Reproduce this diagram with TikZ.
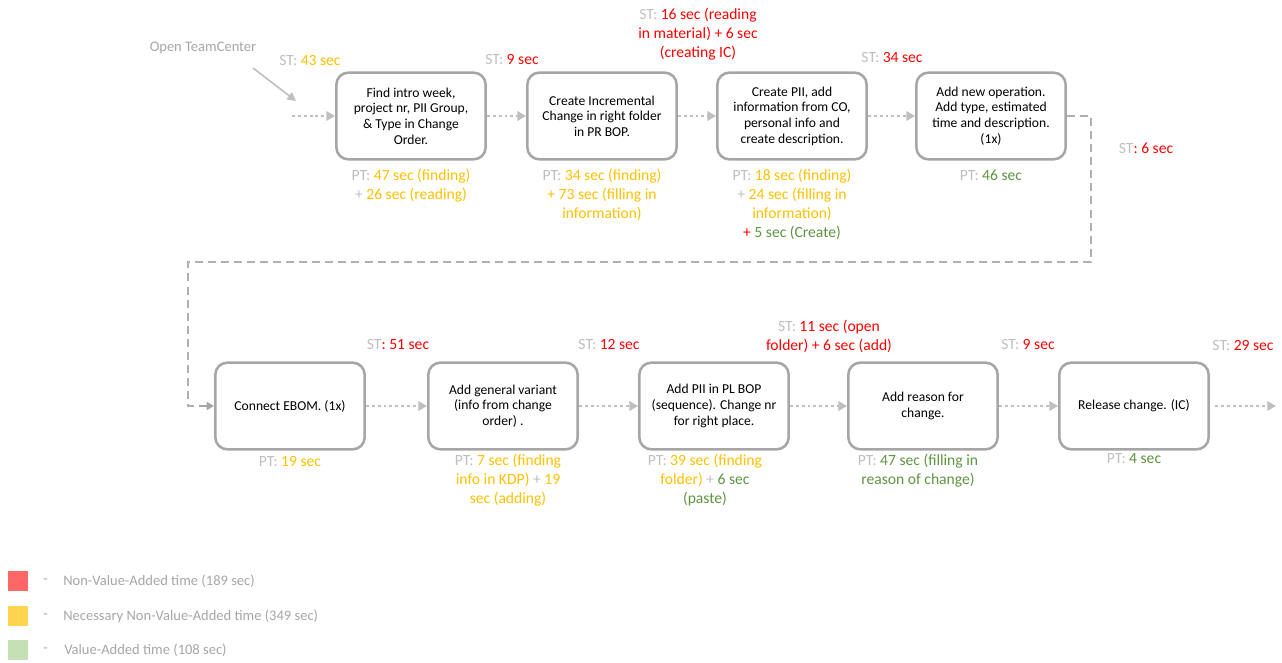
\documentclass[tikz,border=0pt]{standalone}
\usepackage{fontspec}
\setmainfont{Carlito}
\usetikzlibrary{arrows.meta}
\definecolor{lgray}{HTML}{BFBFBF}
\definecolor{bgray}{HTML}{A6A6A6}
\definecolor{dgray}{HTML}{B0B0B0}
\definecolor{tred}{HTML}{FF0000}
\definecolor{tyel}{HTML}{FFC000}
\definecolor{tgrn}{HTML}{5E9440}
\definecolor{lred}{HTML}{FF6666}
\definecolor{lyel}{HTML}{FFD54F}
\definecolor{lgrn}{HTML}{C5E0B4}
\newcommand{\Cg}[1]{\textcolor{lgray}{#1}}
\newcommand{\Cr}[1]{\textcolor{tred}{#1}}
\newcommand{\Cy}[1]{\textcolor{tyel}{#1}}
\newcommand{\Cn}[1]{\textcolor{tgrn}{#1}}
\begin{document}
\begin{tikzpicture}[x=0.75pt,y=-0.75pt,
  proc/.style={draw=bgray, line width=1.9pt, rounded corners=9pt,
    minimum width=112pt, minimum height=65pt, align=center,
    font=\fontsize{10.2}{11.7}\selectfont, text=black, fill=white, inner sep=2pt},
  lab/.style={align=center, font=\fontsize{11.7}{14.25}\selectfont, inner sep=0pt},
  flow/.style={draw=lgray, line width=1.9pt, dash pattern=on 2.2pt off 2.2pt,
    -{Triangle[length=6.5pt,width=7pt,fill=lgray]}},
  link/.style={draw=dgray, line width=1.5pt, dash pattern=on 6pt off 3.8pt},
  sq/.style={minimum size=15pt, inner sep=0pt},
  leg/.style={font=\fontsize{10.9}{13}\selectfont, text=bgray, inner sep=0pt, anchor=west}
]
\useasboundingbox (0,0) rectangle (1282,663);

% row 1
\node[proc] (b1) at (411,116) {Find intro week,\\project nr, PII Group,\\\& Type in Change\\Order.};
\node[proc] (b2) at (602,116) {Create Incremental\\Change in right folder\\in PR BOP.};
\node[proc] (b3) at (792,116) {Create PII, add\\information from CO,\\personal info and\\create description.};
\node[proc] (b4) at (991,116) {Add new operation.\\Add type, estimated\\time and description.\\(1x)};
% row 2
\node[proc] (b5) at (290,406) {Connect EBOM. (1x)};
\node[proc] (b6) at (503,406) {Add general variant\\(info from change\\order) .};
\node[proc] (b7) at (714,406) {Add PII in PL BOP\\(sequence). Change nr\\for right place.};
\node[proc] (b8) at (923,406) {Add reason for\\change.};
\node[proc] (b9) at (1134,406) {Release change. (IC)};

% start
\node[leg, anchor=center, text=bgray] (open) at (203,48) {Open TeamCenter};
\coordinate (o1) at (253,68);
\coordinate (o2) at (296,101);
\draw[draw=lgray, line width=1.2pt, -{Triangle[length=6.5pt,width=6.5pt,fill=lgray]}] (o1) -- (o2);
\coordinate (in) at (292,116);
\draw[flow] (in) -- (b1.west);
\draw[flow] (b1.east) -- (b2.west);
\draw[flow] (b2.east) -- (b3.west);
\draw[flow] (b3.east) -- (b4.west);
% return link
\coordinate (r1) at (1091,116);
\coordinate (r2) at (1091,262);
\coordinate (r3) at (188,262);
\coordinate (r4) at (188,406);
\coordinate (r5) at (194,406);
\coordinate (r6) at (199,406);
\draw[link] (b4.east) -- (r1) -- (r2) -- (r3) -- (r4) -- (r5);
\draw[draw=bgray, line width=1.2pt, -{Triangle[length=5.5pt,width=6pt,fill=bgray]}] (r6) -- (b5.west);
\draw[flow] (b5.east) -- (b6.west);
\draw[flow] (b6.east) -- (b7.west);
\draw[flow] (b7.east) -- (b8.west);
\draw[flow] (b8.east) -- (b9.west);
\coordinate (out) at (1276,406);
\draw[flow, shorten <=4pt] (b9.east) -- (out);

% ST labels
\node[lab] (st1) at (310,61) {\Cg{ST:} \Cy{43 sec}};
\node[lab] (st2) at (512,60) {\Cg{ST:} \Cr{9 sec}};
\node[lab] (st3) at (698,34) {\Cg{ST:} \Cr{16 sec (reading}\\\Cr{in material) + 6 sec}\\\Cr{(creating IC)}};
\node[lab] (st4) at (892,58) {\Cg{ST:} \Cr{34 sec}};
\node[lab] (st5) at (1146,148) {\Cg{ST}\Cr{: 6 sec}};
\node[lab] (st6) at (398,344) {\Cg{ST}\Cr{: 51 sec}};
\node[lab] (st7) at (609,344) {\Cg{ST:} \Cr{12 sec}};
\node[lab] (st8) at (829,336) {\Cg{ST:} \Cr{11 sec (open}\\\Cr{folder) + 6 sec (add)}};
\node[lab] (st9) at (1028,344) {\Cg{ST:} \Cr{9 sec}};
\node[lab] (st10) at (1243,345) {\Cg{ST:} \Cr{29 sec}};

% PT labels
\node[lab, anchor=north] (pt1) at (411,169) {\Cg{PT:} \Cy{47 sec (finding)}\\\Cg{+} \Cy{26 sec (reading)}};
\node[lab, anchor=north] (pt2) at (602,169) {\Cg{PT:} \Cy{34 sec (finding)}\\\Cy{+ 73 sec (filling in}\\\Cy{information)}};
\node[lab, anchor=north] (pt3) at (792,169) {\Cg{PT:} \Cy{18 sec (finding)}\\\Cg{+} \Cy{24 sec (filling in}\\\Cy{information)}\\\Cr{+} \Cn{5 sec (Create)}};
\node[lab, anchor=north] (pt4) at (991,170) {\Cg{PT:} \Cn{46 sec}};
\node[lab, anchor=north] (pt5) at (290,456) {\Cg{PT:} \Cy{19 sec}};
\node[lab, anchor=north] (pt6) at (508,454) {\Cg{PT:} \Cy{7 sec (finding}\\\Cy{info in KDP)} \Cg{+} \Cy{19}\\\Cy{sec (adding)}};
\node[lab, anchor=north] (pt7) at (705,454) {\Cg{PT:} \Cy{39 sec (finding}\\\Cy{folder)} \Cg{+} \Cn{6 sec}\\\Cn{(paste)}};
\node[lab, anchor=north] (pt8) at (918,454) {\Cg{PT:} \Cn{47 sec (filling in}\\\Cn{reason of change)}};
\node[lab, anchor=north] (pt9) at (1134,453) {\Cg{PT:} \Cn{4 sec}};

% legend
\node[sq, fill=lred] (s1) at (18,581) {};
\node[sq, fill=lyel] (s2) at (18,616) {};
\node[sq, fill=lgrn] (s3) at (18,650) {};
\node[leg] (d1) at (43,581) {-};
\node[leg] (d2) at (43,616) {-};
\node[leg] (d3) at (43,650) {-};
\node[leg] (l1) at (63,581) {Non-Value-Added time (189 sec)};
\node[leg] (l2) at (63,616) {Necessary Non-Value-Added time (349 sec)};
\node[leg] (l3) at (64,650) {Value-Added time (108 sec)};
\end{tikzpicture}
\end{document}
